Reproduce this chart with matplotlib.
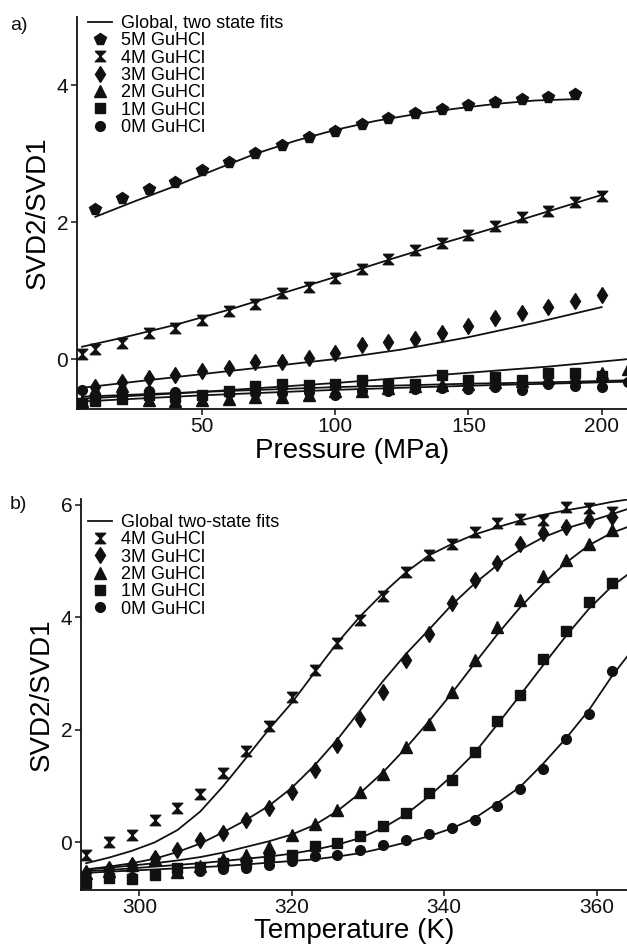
import matplotlib.pyplot as plt
from matplotlib.lines import Line2D
from matplotlib.path import Path

plt.rcParams['font.family'] = ['Liberation Sans', 'DejaVu Sans']

# --- a) pressure denaturation ---
p_5m = [10, 20, 30, 40, 50, 60, 70, 80, 90, 100, 110, 120, 130, 140, 150, 160, 170, 180, 190]
svd_5m = [2.20, 2.36, 2.49, 2.59, 2.77, 2.88, 3.01, 3.13, 3.24, 3.34, 3.44, 3.52, 3.60,
          3.66, 3.72, 3.76, 3.80, 3.83, 3.88]
fit_p_5m = [10, 25, 40, 55, 70, 85, 100, 115, 130, 145, 160, 175, 190]
fit_5m = [2.08, 2.31, 2.53, 2.77, 3.00, 3.19, 3.35, 3.48, 3.58, 3.66, 3.73, 3.78, 3.80]

p_4m = [5, 10, 20, 30, 40, 50, 60, 70, 80, 90, 100, 110, 120, 130, 140, 150, 160, 170, 180, 190, 200]
svd_4m = [0.08, 0.15, 0.24, 0.38, 0.46, 0.57, 0.70, 0.81, 0.96, 1.06, 1.19, 1.31, 1.46,
          1.59, 1.70, 1.82, 1.94, 2.07, 2.16, 2.29, 2.38]
fit_p_4m = [5, 20, 40, 60, 80, 100, 120, 140, 160, 180, 200]
fit_4m = [0.18, 0.31, 0.50, 0.72, 0.96, 1.20, 1.45, 1.69, 1.92, 2.16, 2.40]

p_3m = [10, 20, 30, 40, 50, 60, 70, 80, 90, 100, 110, 120, 130, 140, 150, 160, 170, 180, 190, 200]
svd_3m = [-0.41, -0.33, -0.28, -0.23, -0.17, -0.13, -0.04, -0.05, 0.01, 0.09, 0.20, 0.25,
          0.30, 0.38, 0.49, 0.60, 0.67, 0.76, 0.85, 0.93]
fit_p_3m = [5, 25, 50, 75, 100, 125, 150, 175, 200]
fit_3m = [-0.42, -0.33, -0.22, -0.11, 0.00, 0.14, 0.32, 0.53, 0.76]

p_low = [5, 10, 20, 30, 40, 50, 60, 70, 80, 90, 100, 110, 120, 130, 140, 150, 160, 170,
         180, 190, 200, 210]
svd_2m = [-0.62, -0.45, -0.40, -0.60, -0.62, -0.60, -0.58, -0.56, -0.55, -0.53, -0.47,
          -0.46, -0.43, -0.40, -0.38, -0.37, -0.33, -0.32, -0.28, -0.26, -0.21, -0.15]
svd_1m = [-0.64, -0.62, -0.58, -0.52, -0.55, -0.52, -0.47, -0.40, -0.36, -0.38, -0.36,
          -0.30, -0.37, -0.37, -0.23, -0.31, -0.26, -0.31, -0.20, -0.21, -0.25]
svd_0m = [-0.45, -0.52, -0.50, -0.46, -0.48, -0.52, -0.50, -0.50, -0.49, -0.48, -0.52,
          -0.46, -0.47, -0.44, -0.42, -0.44, -0.41, -0.45, -0.36, -0.40, -0.41, -0.33]
fit_p_low = [5, 50, 100, 150, 180, 210]
fit_2m = [-0.58, -0.48, -0.35, -0.20, -0.11, 0.00]
fit_1m = [-0.55, -0.48, -0.41, -0.36, -0.34, -0.31]
fit_0m = [-0.62, -0.53, -0.45, -0.39, -0.36, -0.33]

# --- b) thermal denaturation ---
temp = [293, 296, 299, 302, 305, 308, 311, 314, 317, 320, 323, 326, 329, 332, 335, 338,
        341, 344, 347, 350, 353, 356, 359, 362]
t_4m = [-0.22, 0.00, 0.14, 0.39, 0.61, 0.86, 1.24, 1.62, 2.07, 2.59, 3.06, 3.55, 3.95,
        4.38, 4.81, 5.11, 5.30, 5.51, 5.67, 5.74, 5.73, 5.96, 5.95, 5.87]
t_3m = [-0.55, -0.48, -0.40, -0.28, -0.13, 0.04, 0.16, 0.40, 0.61, 0.89, 1.29, 1.73, 2.19,
        2.68, 3.24, 3.70, 4.25, 4.66, 4.97, 5.30, 5.49, 5.61, 5.73, 5.79]
t_2m = [-0.55, -0.50, -0.40, -0.30, -0.52, -0.42, -0.30, -0.22, -0.08, 0.14, 0.32, 0.58,
        0.89, 1.22, 1.70, 2.11, 2.68, 3.24, 3.82, 4.31, 4.73, 5.02, 5.30, 5.55]
t_1m = [-0.72, -0.63, -0.65, -0.57, -0.45, -0.43, -0.37, -0.34, -0.25, -0.22, -0.07, -0.01,
        0.12, 0.30, 0.52, 0.88, 1.11, 1.60, 2.15, 2.62, 3.25, 3.76, 4.28, 4.61]
t_0m = [-0.65, -0.60, -0.62, -0.58, -0.52, -0.50, -0.48, -0.45, -0.40, -0.33, -0.25, -0.23,
        -0.13, -0.04, 0.05, 0.15, 0.26, 0.40, 0.64, 0.95, 1.31, 1.83, 2.28, 3.05]

fit_temp = temp + [364]
fit_t_4m = [-0.37, -0.27, -0.15, 0.00, 0.22, 0.55, 1.00, 1.50, 2.01, 2.48, 3.02, 3.55, 4.02,
            4.43, 4.80, 5.10, 5.30, 5.47, 5.60, 5.72, 5.82, 5.90, 5.97, 6.05, 6.09]
fit_t_3m = [-0.48, -0.43, -0.37, -0.29, -0.17, -0.02, 0.18, 0.40, 0.65, 0.97, 1.37, 1.83,
            2.35, 2.87, 3.35, 3.78, 4.22, 4.60, 4.93, 5.20, 5.42, 5.58, 5.70, 5.83, 5.92]
fit_t_2m = [-0.48, -0.45, -0.41, -0.37, -0.32, -0.26, -0.18, -0.08, 0.02, 0.14, 0.31, 0.56,
            0.88, 1.25, 1.68, 2.15, 2.65, 3.18, 3.70, 4.18, 4.60, 4.97, 5.28, 5.50, 5.60]
fit_t_1m = [-0.51, -0.49, -0.46, -0.43, -0.40, -0.37, -0.33, -0.29, -0.25, -0.20, -0.13,
            -0.04, 0.08, 0.26, 0.50, 0.82, 1.18, 1.59, 2.10, 2.62, 3.15, 3.67, 4.15, 4.55, 4.75]
fit_t_0m = [-0.54, -0.52, -0.50, -0.48, -0.46, -0.44, -0.42, -0.39, -0.36, -0.33, -0.30,
            -0.25, -0.19, -0.10, 0.00, 0.11, 0.25, 0.43, 0.70, 0.99, 1.40, 1.85, 2.35, 2.95, 3.30]

# hourglass symbol (two triangles tip to tip)
hourglass = Path([(-1, 1), (1, 1), (-1, -1), (1, -1), (-1, 1)])

ink = '#111111'
style = {
    '5M': dict(marker='p', ms=8.5),
    '4M': dict(marker=hourglass, ms=7.5),
    '3M': dict(marker='d', ms=8.5),
    '2M': dict(marker='^', ms=8),
    '1M': dict(marker='s', ms=6.5),
    '0M': dict(marker='o', ms=7),
}


def decorate(ax):
    for side in ('top', 'right'):
        ax.spines[side].set_visible(False)
    for side in ('left', 'bottom'):
        ax.spines[side].set_linewidth(1.3)
        ax.spines[side].set_color(ink)
    ax.tick_params(direction='out', length=4, width=1.1, labelsize=15, colors=ink, pad=2)
    ax.set_ylabel('SVD2/SVD1', fontsize=20, labelpad=4)


def add_legend(fig, ax, fit_label, keys, top):
    handles = [Line2D([], [], color=ink, lw=1.3)]
    labels = [fit_label]
    for k in keys:
        handles.append(Line2D([], [], ls='none', color=ink, **style[k]))
        labels.append('%s GuHCl' % k)
    ax.legend(handles, labels, loc='upper left', bbox_to_anchor=(88 / 627, top),
              bbox_transform=fig.transFigure, frameon=False, fontsize=13,
              handlelength=1.35, handletextpad=0.5, labelspacing=0.02,
              borderpad=0, borderaxespad=0)


fig = plt.figure(figsize=(6.27, 9.47), dpi=100)

# a) pressure
ax1 = fig.add_axes([0.1223, 0.5681, 0.8777, 0.4139])
for x, y in [(fit_p_5m, fit_5m), (fit_p_4m, fit_4m), (fit_p_3m, fit_3m),
             (fit_p_low, fit_2m), (fit_p_low, fit_1m), (fit_p_low, fit_0m)]:
    ax1.plot(x, y, color=ink, lw=1.3, zorder=2)
for k, x, y in [('5M', p_5m, svd_5m), ('4M', p_4m, svd_4m), ('3M', p_3m, svd_3m),
                ('2M', p_low, svd_2m), ('1M', p_low[:-1], svd_1m), ('0M', p_low, svd_0m)]:
    ax1.plot(x, y, ls='none', color=ink, zorder=3, **style[k])
ax1.set_xlim(3, 209.5)
ax1.set_ylim(-0.73, 5.0)
ax1.set_xticks([50, 100, 150, 200])
ax1.set_yticks([0, 2, 4])
decorate(ax1)
ax1.set_xlabel('Pressure (MPa)', fontsize=20, labelpad=1)
add_legend(fig, ax1, 'Global, two state fits', ['5M', '4M', '3M', '2M', '1M', '0M'], 1 - 15 / 947)
fig.text(10 / 627, 1 - 26 / 947, 'a)', fontsize=14, va='center', color=ink)

# b) temperature
ax2 = fig.add_axes([0.1287, 0.0605, 0.8713, 0.4125])
for y in [fit_t_4m, fit_t_3m, fit_t_2m, fit_t_1m, fit_t_0m]:
    ax2.plot(fit_temp, y, color=ink, lw=1.3, zorder=2)
for k, y in [('4M', t_4m), ('3M', t_3m), ('2M', t_2m), ('1M', t_1m), ('0M', t_0m)]:
    ax2.plot(temp, y, ls='none', color=ink, zorder=3, **style[k])
ax2.set_xlim(292.3, 364.0)
ax2.set_ylim(-0.84, 6.1)
ax2.set_xticks([300, 320, 340, 360])
ax2.set_yticks([0, 2, 4, 6])
decorate(ax2)
ax2.set_xlabel('Temperature (K)', fontsize=20, labelpad=1)
add_legend(fig, ax2, 'Global two-state fits', ['4M', '3M', '2M', '1M', '0M'], 1 - 514 / 947)
fig.text(10 / 627, 1 - 504 / 947, 'b)', fontsize=14, va='center', color=ink)

fig.savefig('out.png', dpi=100)
